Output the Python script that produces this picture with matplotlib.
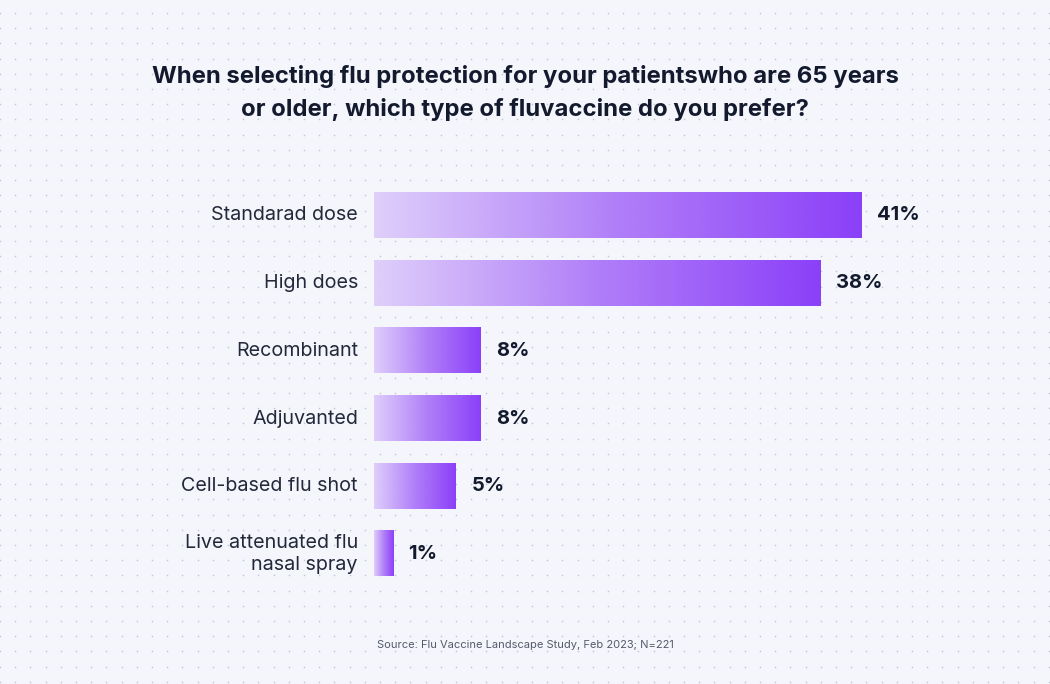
import numpy as np
import matplotlib
matplotlib.use("Agg")
import matplotlib.pyplot as plt
from matplotlib.colors import LinearSegmentedColormap

# survey answers, top to bottom
categories = ["Standarad dose", "High does", "Recombinant", "Adjuvanted",
              "Cell-based flu shot", "Live attenuated flu\nnasal spray"]
shares = [41, 37.6, 9.0, 9.0, 6.9, 1.6]          # bar lengths as drawn
share_labels = ["41%", "38%", "8%", "8%", "5%", "1%"]

title = ("When selecting flu protection for your patientswho are 65 years\n"
         "or older, which type of fluvaccine do you prefer?")
source = "Source: Flu Vaccine Landscape Study, Feb 2023; N=221"

W, H = 1050, 684
bg = "#f4f6fc"
fig = plt.figure(figsize=(W / 100, H / 100), dpi=100, facecolor=bg)

# dotted background
bgax = fig.add_axes([0, 0, 1, 1], zorder=-1)
bgax.set_xlim(0, W)
bgax.set_ylim(H, 0)
bgax.set_facecolor(bg)
bgax.axis("off")
gx, gy = np.meshgrid(np.arange(0, W, 15.2), np.arange(13, H, 15.2))
bgax.scatter(gx.ravel(), gy.ravel(), s=1.4, color="#c3c8d6", linewidths=0)

# main bar axes, placed in pixels
px_per_unit = 11.88
left_px, width_px = 374, 600
top_px, step_px = 181.6, 67.7
n = len(categories)
ax = fig.add_axes([left_px / W, 1 - (top_px + n * step_px) / H,
                   width_px / W, n * step_px / H])
ax.patch.set_alpha(0)
for s in ax.spines.values():
    s.set_visible(False)
ax.set_xticks([])
ax.set_yticks([])

cmap = LinearSegmentedColormap.from_list("purp", ["#decdfb", "#ad78f8", "#8636f9"])
grad = np.linspace(0, 1, 256).reshape(1, -1)
bar_h = 0.665
for i, (v, lab) in enumerate(zip(shares, share_labels)):
    ax.imshow(grad, cmap=cmap, aspect="auto", alpha=0.95,
              extent=[0, v, i + bar_h / 2, i - bar_h / 2], zorder=2)
    ax.text(v + 1.3, i, lab, ha="left", va="center", fontsize=14.5,
            fontweight="bold", color="#141a2e", family="Inter")
    ax.text(-1.35, i, categories[i], ha="right", va="center", fontsize=14.2,
            color="#23283a", family="Inter", linespacing=1.35)

ax.set_xlim(0, width_px / px_per_unit)
ax.set_ylim(n - 0.5, -0.5)

fig.text(0.5, 1 - 93 / H, title, ha="center", va="center", fontsize=17.2,
         fontweight="bold", color="#141a2e", family="Inter", linespacing=1.55)
fig.text(0.5, 1 - 645 / H, source, ha="center", va="center", fontsize=8.0,
         color="#555a6a", family="Inter")

fig.savefig("out.png", dpi=100, facecolor=bg)
